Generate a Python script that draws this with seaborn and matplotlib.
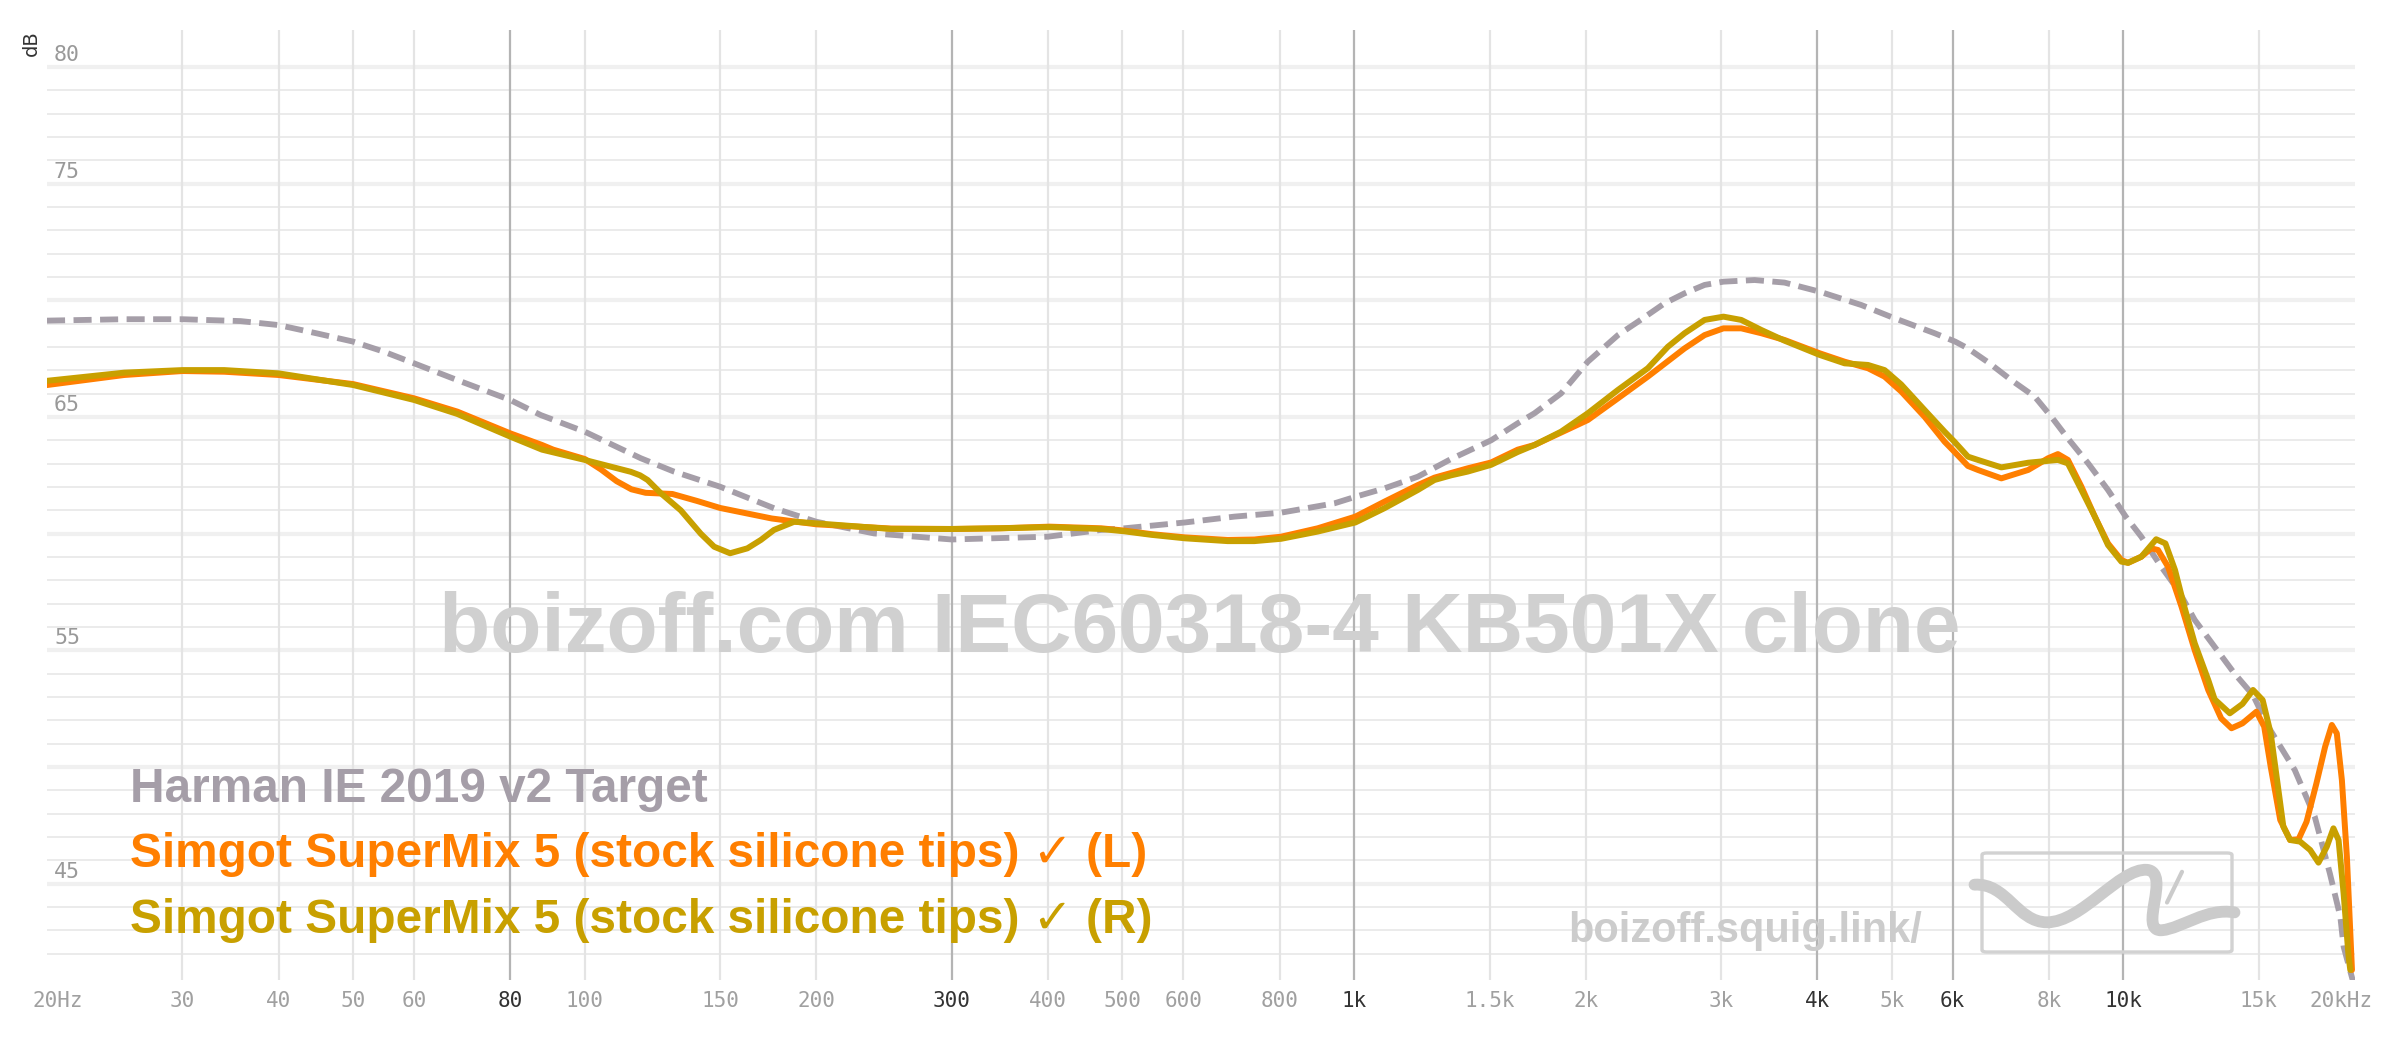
import numpy as np
import pandas as pd
import matplotlib
matplotlib.use("Agg")
import matplotlib.pyplot as plt
import seaborn as sns
from matplotlib.transforms import ScaledTranslation
from matplotlib.path import Path
from matplotlib.patches import PathPatch, FancyBboxPatch
from matplotlib.ticker import NullLocator

# ---------------- data ----------------
harman_freq = [20, 25.2, 30, 35.7, 40, 44.9, 50, 54.8, 60, 68.3, 80, 87.7, 100, 118.3, 130.6,
               150, 176.2, 200, 237.7, 300, 400, 469, 503, 603, 699, 804, 943, 1004, 1095,
               1210, 1337, 1507, 1632, 1716, 1858, 2013, 2203, 2338, 2532, 2689, 2855, 3021,
               3316, 3627, 4029, 4563, 5042, 5684, 6045, 6280, 6700, 7150, 7670, 8060, 8470,
               9000, 9550, 10070, 10550, 11200, 11780, 12380, 13140, 13940, 14740, 15430,
               16700, 17730, 18550, 19140, 19330, 20000]
harman_db = [69.13, 69.19, 69.19, 69.11, 68.94, 68.58, 68.23, 67.80, 67.30, 66.58, 65.73,
             65.08, 64.37, 63.23, 62.66, 62.01, 61.09, 60.51, 60.01, 59.75, 59.87, 60.16,
             60.23, 60.48, 60.73, 60.90, 61.30, 61.58, 61.94, 62.44, 63.20, 64.00, 64.73,
             65.16, 66.01, 67.37, 68.51, 69.08, 69.87, 70.30, 70.66, 70.80, 70.87, 70.76,
             70.37, 69.80, 69.23, 68.59, 68.23, 67.94, 67.30, 66.58, 65.87, 65.01, 64.08,
             63.01, 61.87, 60.73, 59.87, 58.58, 57.58, 56.30, 55.15, 54.01, 53.08, 51.72,
             49.87, 47.87, 45.44, 43.58, 42.30, 40.50]

left_freq = [20, 25.2, 30, 34, 40, 50, 60, 68.3, 80, 88, 91, 100, 105, 110, 115, 120, 130,
             140, 150, 175, 200, 250, 300, 347, 402, 469, 503, 545, 603, 685, 742, 804, 897,
             1004, 1095, 1210, 1272, 1337, 1405, 1507, 1632, 1716, 2013, 2203, 2409, 2689,
             2855, 3021, 3186, 3383, 3627, 4029, 4341, 4656, 4893, 5140, 5515, 5856, 6030,
             6280, 6470, 6940, 7520, 7980, 8220, 8470, 8820, 9180, 9550, 9940, 10140, 10550,
             10870, 11090, 11430, 11900, 12380, 12890, 13400, 13820, 14280, 14890, 15240,
             15540, 15990, 16470, 16890, 17300, 17820, 18290, 18660, 18940, 19230, 19520,
             19820]
left_db = [66.37, 66.80, 66.97, 66.94, 66.80, 66.41, 65.80, 65.23, 64.30, 63.80, 63.60,
           63.20, 62.75, 62.25, 61.90, 61.75, 61.70, 61.40, 61.10, 60.65, 60.40, 60.22,
           60.20, 60.23, 60.30, 60.23, 60.13, 59.98, 59.84, 59.73, 59.75, 59.87, 60.23,
           60.73, 61.37, 62.08, 62.40, 62.60, 62.80, 63.05, 63.60, 63.80, 64.87, 65.80,
           66.73, 67.94, 68.51, 68.80, 68.80, 68.59, 68.30, 67.73, 67.37, 67.09, 66.73,
           66.10, 65.01, 63.94, 63.51, 62.90, 62.73, 62.37, 62.73, 63.23, 63.41, 63.16,
           62.01, 60.73, 59.58, 58.87, 58.75, 59.01, 59.37, 59.30, 58.58, 56.87, 55.00,
           53.30, 52.08, 51.66, 51.87, 52.37, 51.73, 50.01, 47.73, 46.87, 46.90, 47.65,
           49.30, 50.87, 51.80, 51.44, 49.44, 46.15, 41.30]

right_freq = [20, 25.2, 30, 34, 40, 50, 60, 68.3, 80, 88, 100, 114.8, 118, 120.7, 125.6,
              133.3, 141.5, 147.3, 154.5, 162.7, 169.4, 176.2, 187.2, 200.3, 250, 300, 347,
              402, 469, 503, 545, 603, 685, 742, 804, 897, 1004, 1095, 1210, 1272, 1337, 1405,
              1507, 1632, 1716, 1858, 2013, 2203, 2409, 2558, 2689, 2855, 3021, 3186, 3383,
              3627, 4029, 4341, 4656, 4893, 5140, 5515, 5856, 6030, 6280, 6470, 6940, 7520,
              8220, 8470, 8820, 9180, 9550, 9940, 10140, 10550, 11030, 11340, 11670, 12000,
              12380, 12890, 13140, 13750, 14280, 14740, 15170, 15540, 15840, 16140, 16470,
              16970, 17490, 17930, 18380, 18750, 19040, 19330, 19620, 19720]
right_db = [66.55, 66.90, 67.01, 67.01, 66.87, 66.37, 65.73, 65.13, 64.16, 63.60, 63.16,
            62.65, 62.50, 62.30, 61.73, 61.00, 60.00, 59.44, 59.16, 59.37, 59.73, 60.16,
            60.51, 60.44, 60.20, 60.20, 60.23, 60.28, 60.20, 60.10, 59.95, 59.80, 59.68,
            59.68, 59.78, 60.09, 60.48, 61.09, 61.87, 62.30, 62.50, 62.66, 62.95, 63.50,
            63.80, 64.37, 65.16, 66.16, 67.09, 68.01, 68.59, 69.16, 69.30, 69.16, 68.73,
            68.27, 67.66, 67.30, 67.23, 67.01, 66.40, 65.30, 64.37, 63.94, 63.30, 63.16,
            62.84, 63.04, 63.16, 63.01, 61.87, 60.73, 59.51, 58.80, 58.75, 59.01, 59.76,
            59.58, 58.44, 56.87, 55.30, 53.73, 52.90, 52.30, 52.70, 53.30, 52.87, 51.44,
            49.44, 47.44, 46.87, 46.80, 46.44, 45.90, 46.58, 47.37, 46.87, 44.58, 41.87,
            41.30]

x_ticks = [20, 30, 40, 50, 60, 80, 100, 150, 200, 300, 400, 500, 600, 800, 1000, 1500,
           2000, 3000, 4000, 5000, 6000, 8000, 10000, 15000, 20000]
x_tick_labels = ["20Hz", "30", "40", "50", "60", "80", "100", "150", "200", "300", "400",
                 "500", "600", "800", "1k", "1.5k", "2k", "3k", "4k", "5k", "6k", "8k",
                 "10k", "15k", "20kHz"]
major_ticks = [80, 300, 1000, 4000, 6000, 10000]
y_label_values = [80, 75, 65, 55, 45]

legend_names = ["Harman IE 2019 v2 Target",
                "Simgot SuperMix 5 (stock silicone tips) \u2713 (L)",
                "Simgot SuperMix 5 (stock silicone tips) \u2713 (R)"]
watermark = "boizoff.com IEC60318-4 KB501X clone"
site = "boizoff.squig.link/"

c_harman = "#a59ea8"
c_left = "#ff7f00"
c_right = "#c8a000"

# ---------------- figure ----------------
sns.set_theme(style="white")
plt.rcParams["font.family"] = ["DejaVu Sans"]

fig = plt.figure(figsize=(24, 10.38), dpi=100)
ax = fig.add_axes([0.01958, 0.05588, 0.96167, 0.91522])
ax.set_xscale("log")
ax.set_xlim(20, 20000)
ax.set_ylim(40.87, 81.586)
for s in ax.spines.values():
    s.set_visible(False)
ax.set_facecolor("white")

# grid
for v in range(42, 81):
    if v % 5 == 0:
        ax.axhline(v, color="#f0f0f0", lw=3.0, zorder=0)
    else:
        ax.axhline(v, color="#ebebeb", lw=1.4, zorder=0)
for t in x_ticks[1:-1]:
    ax.axvline(t, color="#b4b4b4" if t in major_ticks else "#e4e4e4", lw=1.6, zorder=0.5)

# watermark texts (behind curves)
fig.text(0.5, 1 - 652 / 1038, watermark, ha="center", va="baseline",
         fontsize=60.3, fontweight="bold", family=["Liberation Sans", "DejaVu Sans"],
         color="#d0d0d0", zorder=1)
fig.text(1568 / 2400, 1 - 942 / 1038, site, ha="left", va="baseline",
         fontsize=29.9, fontweight="bold", family=["Liberation Sans", "DejaVu Sans"],
         color="#cccccc", zorder=1)

# curves
df_h = pd.DataFrame({"freq": harman_freq, "db": harman_db})
df_l = pd.DataFrame({"freq": left_freq, "db": left_db})
df_r = pd.DataFrame({"freq": right_freq, "db": right_db})

sns.lineplot(data=df_h, x="freq", y="db", ax=ax, color=c_harman, lw=4.2,
             linestyle=(0, (3.1, 1.45)), estimator=None, errorbar=None, zorder=3)
sns.lineplot(data=df_l, x="freq", y="db", ax=ax, color=c_left, lw=4.3,
             estimator=None, errorbar=None, zorder=4)
sns.lineplot(data=df_r, x="freq", y="db", ax=ax, color=c_right, lw=4.3,
             estimator=None, errorbar=None, zorder=5)
for ln in ax.get_lines()[-3:]:
    ln.set_solid_capstyle("round")
    ln.set_solid_joinstyle("round")
ax.set_xlabel("")
ax.set_ylabel("")

# x ticks
ax.set_xticks(x_ticks)
ax.set_xticklabels(x_tick_labels)
ax.xaxis.set_minor_locator(NullLocator())
ax.tick_params(axis="x", length=0, pad=8)
for t, lab in zip(x_ticks, ax.get_xticklabels()):
    lab.set_fontfamily("DejaVu Sans Mono")
    lab.set_fontsize(15)
    lab.set_color("#333333" if t in major_ticks else "#a0a0a0")
labs = ax.get_xticklabels()
labs[0].set_transform(labs[0].get_transform() + ScaledTranslation(11 / 100, 0, fig.dpi_scale_trans))
labs[-1].set_transform(labs[-1].get_transform() + ScaledTranslation(-14 / 100, 0, fig.dpi_scale_trans))
ax.set_yticks([])

# y labels inside plot, above their gridline
ytr = ax.get_yaxis_transform() + ScaledTranslation(7 / 100, 6 / 100, fig.dpi_scale_trans)
for v in y_label_values:
    ax.text(0, v, str(v), transform=ytr, ha="left", va="baseline",
            fontsize=15.5, family="DejaVu Sans Mono", color="#999999", zorder=6)
fig.text(31 / 2400, 1 - 43 / 1038, "dB", rotation=90, ha="center", va="center",
         fontsize=14, color="#333333")

# legend texts
baselines = [802, 867, 933]
for name, col, b in zip(legend_names, [c_harman, c_left, c_right], baselines):
    fig.text(130 / 2400, 1 - b / 1038, name, ha="left", va="baseline", fontsize=34.4,
             fontweight="bold", family=["Liberation Sans", "DejaVu Sans"], color=col, zorder=7)

# logo box
lax = fig.add_axes([1982 / 2400, 1 - 952 / 1038, 250 / 2400, 99 / 1038])
lax.set_xlim(0, 1)
lax.set_ylim(0, 1)
lax.axis("off")
lax.patch.set_alpha(0)
box = FancyBboxPatch((0, 0), 1, 1, boxstyle="round,pad=0,rounding_size=0.02",
                     fill=False, ec="#d2d2d2", lw=2.4, clip_on=False)
lax.add_patch(box)
verts = [(-0.03, 0.68), (0.10, 0.70), (0.14, 0.30), (0.26, 0.30),
         (0.40, 0.30), (0.55, 0.85), (0.66, 0.83),
         (0.76, 0.80), (0.62, 0.20), (0.72, 0.22),
         (0.80, 0.24), (0.90, 0.45), (1.01, 0.40)]
codes = [Path.MOVETO] + [Path.CURVE4] * 12
lax.add_patch(PathPatch(Path(verts, codes), fill=False, ec="#cbcbcb", lw=8.5,
                        capstyle="round", joinstyle="round", clip_on=False))
lax.plot([0.80, 0.74], [0.81, 0.50], color="#cbcbcb", lw=3, solid_capstyle="round",
         clip_on=False)

fig.savefig("out.png", dpi=100, facecolor="white")
